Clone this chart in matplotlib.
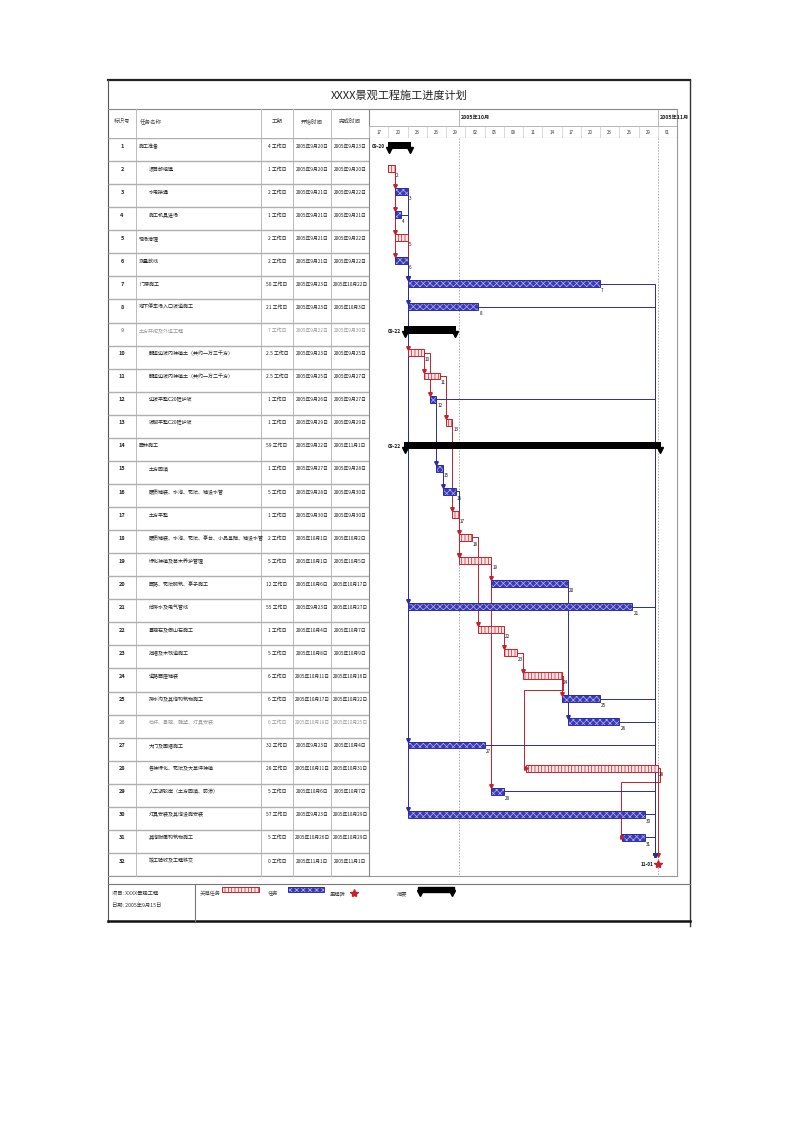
import datetime as dt
import numpy as np
import matplotlib
matplotlib.use("Agg")
import matplotlib.pyplot as plt
from matplotlib.patches import Rectangle

plt.rcParams['font.family'] = ['Noto Sans CJK SC', 'DejaVu Sans']
plt.rcParams['hatch.linewidth'] = 0.5

# ---- data -----------------------------------------------------------------
title = "XXXX景观工程施工进度计划"
origin = dt.date(2005, 9, 17)          # first column of the timescale

task_names = [
    "施工准备", "项目部组建", "水电接通", "施工机具进场", "现场清理", "测量放线",
    "门楼施工", "地下停车场入口坡道施工", "土方开挖及外运工程",
    "翻运边坡内种植土（共约一万三千方）", "翻运边坡内种植土（共约一万二千方）",
    "边坡平整C20砼护坡", "坡脚平整C20砼护坡", "园林施工", "土方回填",
    "硬质铺装、水池、花坛、铺设水管", "土方平整",
    "硬质铺装、水池、花坛、亭台、小品基础、铺设水管",
    "绿化种植及苗木养护管理", "园路、花坛砌筑、亭子施工", "给排水及电气管线",
    "景观石及假山石施工", "挡墙及木栈道施工", "道路面层铺装",
    "排水沟及其他构筑物施工", "栏杆、景观、雕塑、灯具安装", "大门及围墙施工",
    "各种绿化、花坛及大草坪种植", "人工湖驳岸（土方回填、防渗）",
    "灯具安装及其他设施安装", "其他附属构筑物施工", "竣工验收及工程移交",
]
indent = [0, 1, 1, 1, 0, 0, 0, 0, 0, 1, 1, 1, 1, 0, 1, 1,
          1, 1, 1, 1, 1, 1, 1, 1, 1, 1, 1, 1, 1, 1, 1, 1]
faded = [9, 26]
durations = ["4", "1", "2", "1", "2", "2", "50", "21", "7", "2.5", "2.5", "1",
             "1", "59", "1", "5", "1", "2", "5", "12", "55", "1", "5", "6",
             "6", "6", "32", "28", "5", "57", "5", "0"]
# S summary, C critical task, T task, M milestone
kind = list("SCTTCTTTSCCTCSTTCCCTTCCCTTTCTTTM")
start = [3, 3, 4, 4, 4, 4, 6, 6, 5.5, 6, 8.5, 9.5, 12, 5.5, 10.5, 11.5,
         13, 14, 14, 19, 6, 17, 21, 24, 30, 31, 6, 24.5, 19, 6, 39.5, 45]
finish = [6.5, 4, 6, 5, 6, 6, 36, 17, 13.5, 8.5, 11, 10.5, 13, 45.5, 11.5, 13.5,
          14, 16, 19, 31, 41, 21, 23, 30, 36, 39, 18, 45, 21, 43, 43, 45]
links = [(2, 3), (2, 4), (2, 5), (2, 6), (3, 7), (4, 7), (5, 10), (6, 7),
         (6, 8), (6, 21), (6, 27), (6, 30), (10, 11), (10, 12), (11, 13),
         (12, 15), (13, 17), (15, 16), (16, 19), (17, 18), (17, 19), (18, 22),
         (19, 20), (19, 29), (20, 26), (22, 23), (23, 24), (24, 25), (24, 28),
         (28, 31), (28, 32), (7, 32), (8, 32), (12, 32), (21, 32), (25, 32),
         (26, 32), (27, 32), (29, 32), (30, 32), (31, 32)]
n_days = 48
col_step = 3
headers = ["标识号", "任务名称", "工期", "开始时间", "完成时间"]
legend_items = ["关键任务", "任务", "里程碑", "摘要"]
project_info = ["项目: XXXX景观工程", "日期: 2005年9月15日"]

# ---- layout ----------------------------------------------------------------
W, H = 794, 1123
RED, RED_FILL, BLUE, BLUE_HATCH = '#c8202a', '#fde6e6', '#2b2ba6', '#b4b4f0'
n = len(task_names)
kind = np.array(kind)
start = np.array(start, float)
finish = np.array(finish, float)
rows = np.arange(n)
yc = rows + 0.32
BH = 0.3

fig = plt.figure(figsize=(W / 100, H / 100), dpi=100)
bg = fig.add_axes([0, 0, 1, 1])
bg.set_xlim(0, W)
bg.set_ylim(H, 0)
bg.axis('off')


def px_axes(x0, y0, x1, y1, **kw):
    return fig.add_axes([x0 / W, 1 - y1 / H, (x1 - x0) / W, (y1 - y0) / H], **kw)


GL, GR, GT, GB = 369, 677, 138, 876
gantt = px_axes(GL, GT, GR, GB)
gantt.set_xlim(0, n_days)
gantt.set_ylim(n, 0)
gantt.axis('off')
table = px_axes(108, GT, GL, GB, sharey=gantt)
table.set_xlim(108, GL)
table.axis('off')
head = px_axes(GL, 109, GR, GT)
head.set_xlim(0, n_days)
head.set_ylim(1, 0)
head.axis('off')

# frame
bg.plot([108, 690], [80, 80], color='#222', lw=1.6)
bg.plot([108, 108], [80, 922], color='#555', lw=0.8)
bg.plot([690, 690], [80, 926], color='#333', lw=1.0)
bg.plot([108, GR], [109, 109], color='#888', lw=0.8)
bg.plot([GR, GR], [109, GB], color='#999', lw=0.8)
bg.plot([108, GR], [GB, GB], color='#999', lw=0.8)
bg.plot([108, 690], [884, 884], color='#777', lw=0.8)
bg.plot([108, 690], [921, 921], color='#111', lw=1.8)
bg.plot([195, 195], [884, 921], color='#777', lw=0.8)
bg.text(399, 96, title, fontsize=8, ha='center', va='center', color='#222')

# table header
col_x = [108, 136, 261, 293, 331, GL]
for x in col_x[1:]:
    bg.plot([x, x], [109, GB], color='#bbb', lw=0.7)
bg.plot([GL, GL], [109, GB], color='#888', lw=0.8)
hx = [122, 140, 277, 312, 350]
for i, (x, t) in enumerate(zip(hx, headers)):
    bg.text(x, 121, t, fontsize=4, ha='left' if i == 1 else 'center',
            va='center', color='#444')

# table body
table.hlines(np.arange(0, n + 1), 108, GL, color='#b0b0b0', lw=1.0)
for i in rows:
    c = '#999' if (i + 1) in faded else '#222'
    ty = i + 0.35
    table.text(122, ty, str(i + 1), fontsize=4, ha='center', va='center',
               fontweight='bold', color=c)
    table.text(139 + 10 * indent[i], ty, task_names[i], fontsize=3.6,
               ha='left', va='center', color=c)
    table.text(277, ty, f"{durations[i]} 工作日", fontsize=3.5,
               ha='center', va='center', color=c)
    d0 = origin + dt.timedelta(days=int(np.floor(start[i])))
    d1 = origin + dt.timedelta(days=max(int(np.ceil(finish[i])) - 1,
                                        int(np.floor(start[i]))))
    for x, d in ((312, d0), (350, d1)):
        table.text(x, ty, f"{d.year}年{d.month}月{d.day}日", fontsize=3.4,
                   ha='center', va='center', color=c)

# timescale header
head.hlines(0.59, 0, n_days, color='#aaa', lw=0.6)
head.hlines(1.0, 0, n_days, color='#888', lw=0.8)
ticks = np.arange(0, n_days + 1, col_step)
head.vlines(ticks, 0.59, 1, color='#ccc', lw=0.5)
for t in ticks[:-1]:
    d = origin + dt.timedelta(days=int(t))
    head.text(t + col_step / 2, 0.8, f"{d.day:02d}", fontsize=3.2,
              ha='center', va='center', color='#333')
month_days = [k for k in range(n_days + 1)
              if (origin + dt.timedelta(days=k)).day == 1]
head.vlines(month_days, 0, 0.59, color='#aaa', lw=0.6)
for k in month_days:
    d = origin + dt.timedelta(days=k)
    head.text(k + 0.3, 0.3, f"{d.year}年{d.month}月", fontsize=3.8,
              ha='left', va='center', color='#222', fontweight='bold')
gantt.vlines(month_days, 0, n, color='#aaa', lw=0.7, linestyles=(0, (1.5, 1.5)))

# dependency links
for p, s in links:
    p, s = p - 1, s - 1
    col = RED if kind[p] == 'C' else BLUE
    xp, yp = finish[p], yc[p]
    xs, ys = start[s], yc[s]
    if kind[s] == 'M' and kind[p] != 'C':
        xs -= 0.5
    if xs >= xp - 1e-6:
        gantt.plot([xp, xs, xs], [yp, yp, ys - BH / 2 - 0.08], color=col,
                   lw=0.7, zorder=2)
        gantt.plot(xs, ys - BH / 2 - 0.08, marker='v', ms=2.6, color=col,
                   zorder=4)
    else:
        ym = yp + 0.62
        gantt.plot([xp, xp + 0.3, xp + 0.3, xs - 0.3, xs - 0.3, xs],
                   [yp, yp, ym, ym, ys, ys], color=col, lw=0.7, zorder=2)
        gantt.plot(xs - 0.1, ys, marker='>', ms=2.6, color=col, zorder=4)

# bars
crit = kind == 'C'
task = kind == 'T'
summ = kind == 'S'
gantt.barh(yc[crit], (finish - start)[crit], left=start[crit], height=BH,
           color=RED_FILL, edgecolor=RED, hatch='|||||', lw=0, zorder=3)
gantt.barh(yc[crit], (finish - start)[crit], left=start[crit], height=BH,
           fill=False, edgecolor=RED, lw=0.7, zorder=3)
gantt.barh(yc[task], (finish - start)[task], left=start[task], height=BH,
           color='#3a3ab8', edgecolor=BLUE_HATCH, hatch='xxxxx', lw=0, zorder=3)
gantt.barh(yc[task], (finish - start)[task], left=start[task], height=BH,
           fill=False, edgecolor=BLUE, lw=0.7, zorder=3)
gantt.barh(yc[summ], (finish - start)[summ], left=start[summ], height=0.32,
           color='black', zorder=3)
gantt.plot(start[summ] + 0.15, yc[summ] + 0.2, 'v', color='black', ms=4.5,
           zorder=3, ls='none')
gantt.plot(finish[summ] - 0.15, yc[summ] + 0.2, 'v', color='black', ms=4.5,
           zorder=3, ls='none')

ms = kind == 'M'
gantt.plot(start[ms], yc[ms] + 0.15, marker='*', color=RED, ms=6,
           ls='none', zorder=5)

for i in rows:
    d0 = origin + dt.timedelta(days=int(np.floor(start[i])))
    if kind[i] in ('C', 'T'):
        gantt.text(finish[i] + 0.2, yc[i] + 0.3, str(i + 1), fontsize=3.3,
                   ha='left', va='center', color='#111', zorder=6)
    elif kind[i] == 'S':
        gantt.text(start[i] - 0.5, yc[i] + 0.05, f"{d0:%m-%d}", fontsize=3.4,
                   ha='right', va='center', color='#111', fontweight='bold')
    else:
        gantt.text(start[i] - 0.7, yc[i] + 0.2, f"{d0:%m-%d}", fontsize=3.4,
                   ha='right', va='center', color='#111', fontweight='bold')

# legend
bg.text(112, 893, project_info[0], fontsize=3.8, ha='left', va='center',
        color='#333')
bg.text(112, 905, project_info[1], fontsize=3.8, ha='left', va='center',
        color='#333')
lx = [200, 268, 330, 397]
for x, t in zip(lx, legend_items):
    bg.text(x, 894, t, fontsize=3.8, ha='left', va='center', color='#444')
bg.add_patch(Rectangle((222, 887), 37, 5, facecolor=RED_FILL, edgecolor=RED,
                       hatch='|||||', lw=0.7))
bg.add_patch(Rectangle((288, 887), 36, 5, facecolor='#3a3ab8',
                       edgecolor=BLUE_HATCH, hatch='xxxxx', lw=0))
bg.add_patch(Rectangle((288, 887), 36, 5, fill=False, edgecolor=BLUE, lw=0.7))
bg.plot(354, 893, marker='*', color=RED, ms=6)
bg.add_patch(Rectangle((418, 887), 36, 5, color='black'))
bg.plot([420, 452], [893, 893], 'v', color='black', ms=4.5)

fig.savefig("out.png", dpi=100)
